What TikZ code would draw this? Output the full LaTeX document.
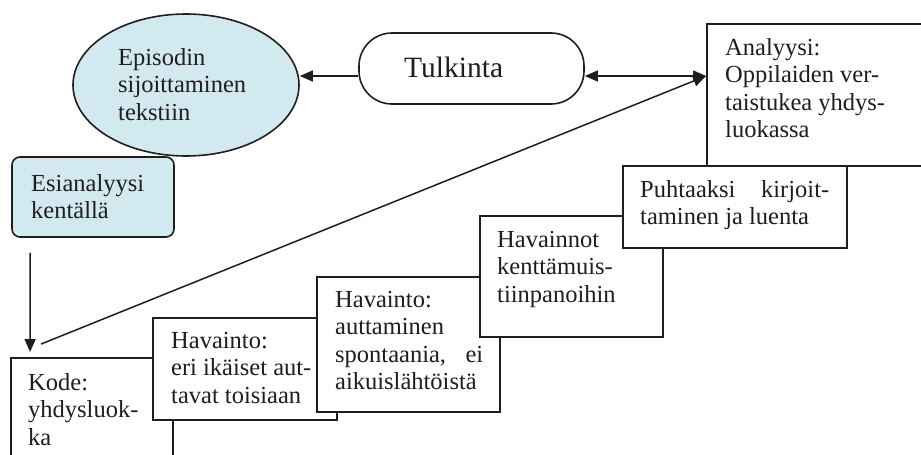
\documentclass[tikz,border=0pt]{standalone}
\usepackage{fontspec}
\setmainfont{Liberation Serif}
\usetikzlibrary{arrows.meta,shapes.geometric}
\definecolor{paleblue}{RGB}{210,233,239}
\definecolor{ink}{RGB}{30,30,30}
% stacked lines; the baseline of the block is that of its first line
\newcommand{\txtlines}[1]{\vtop{\halign{##\hfil\cr#1\crcr}}}
\newcommand{\jline}[2]{\hbox to #1{#2}}
\begin{document}
\begin{tikzpicture}[x=1pt,y=-1pt,
  txt/.style={anchor=base west, inner sep=0pt, text=ink, font=\fontsize{24.5}{27.5}\selectfont},
  boxshape/.style={draw=ink, line width=1.9pt, fill=white, rectangle, inner sep=0pt},
  blueshape/.style={draw=ink, line width=1.6pt, fill=paleblue, inner sep=0pt},
  link/.style={draw=ink, line width=1.5pt},
  arr/.style={link, -{Triangle[length=13pt,width=11pt]}},
  arrboth/.style={link, {Triangle[length=13pt,width=11pt]}-{Triangle[length=13pt,width=11pt]}},
]
\useasboundingbox (0,0) rectangle (921,455);
\clip (0,0) rectangle (921,455);

% upper row
\node[blueshape, ellipse, minimum width=226pt, minimum height=142pt] (epi) at (186,85) {};
\node[txt] (epiT) at (118,65) {\txtlines{Episodin\cr sijoittaminen\cr tekstiin}};

\node[draw=ink, line width=1.6pt, fill=white, rectangle, rounded corners=33pt,
      minimum width=225pt, minimum height=71pt, inner sep=0pt] (tulk) at (471.5,68.5) {};
\node[txt, font=\fontsize{29.5}{32}\selectfont] (tulkT) at (404,77) {Tulkinta};

\node[blueshape, rectangle, rounded corners=8pt, minimum width=162pt, minimum height=80pt] (esi) at (93,197) {};
\node[txt] (esiT) at (31,191) {\txtlines{Esianalyysi\cr kentällä}};

% staircase of boxes, each lying over the previous one
\node[boxshape, minimum width=223pt, minimum height=142pt] (anal) at (818.5,95) {};
\node[txt] (analT) at (725,55) {\txtlines{Analyysi:\cr Oppilaiden ver-\cr taistukea yhdys-\cr luokassa}};

\node[boxshape, minimum width=162pt, minimum height=112pt] (kode) at (92,414) {};
\node[txt] (kodeT) at (28,390) {\txtlines{Kode:\cr yhdysluok-\cr ka}};

\node[boxshape, minimum width=184pt, minimum height=102pt] (hav1) at (245,369) {};
\node[txt] (hav1T) at (171,348) {\txtlines{Havainto:\cr eri ikäiset aut-\cr tavat toisiaan}};

\node[boxshape, minimum width=183pt, minimum height=135pt] (hav2) at (408.5,344.5) {};
\node[txt] (hav2T) at (335,307) {\txtlines{Havainto:\cr auttaminen\cr \jline{148pt}{spontaania,\hfill ei}\cr aikuislähtöistä}};

\node[boxshape, minimum width=183pt, minimum height=121pt] (havn) at (571.5,276.5) {};
\node[txt] (havnT) at (497,247) {\txtlines{Havainnot\cr kenttämuis-\cr tiinpanoihin}};

\node[boxshape, minimum width=224pt, minimum height=82pt] (puht) at (735,207) {};
\node[txt] (puhtT) at (640,197) {\txtlines{\jline{189pt}{Puhtaaksi\hfill kirjoit-}\cr taminen ja luenta}};

% connectors
\coordinate (analIn) at ([yshift=19pt]anal.west);
\draw[arr] ([yshift=-7.5pt]tulk.west) -- ([yshift=-7.5pt]tulk.west -| epi.east);
\draw[arrboth] ([yshift=-7.5pt]tulk.east) -- (analIn);
\draw[arr] ([xshift=31pt,yshift=13pt]kode.north west) -- (analIn);
\draw[arr] ([xshift=19pt,yshift=-15pt]esi.south west) -- ([xshift=20pt,yshift=5pt]kode.north west);
\end{tikzpicture}
\end{document}
